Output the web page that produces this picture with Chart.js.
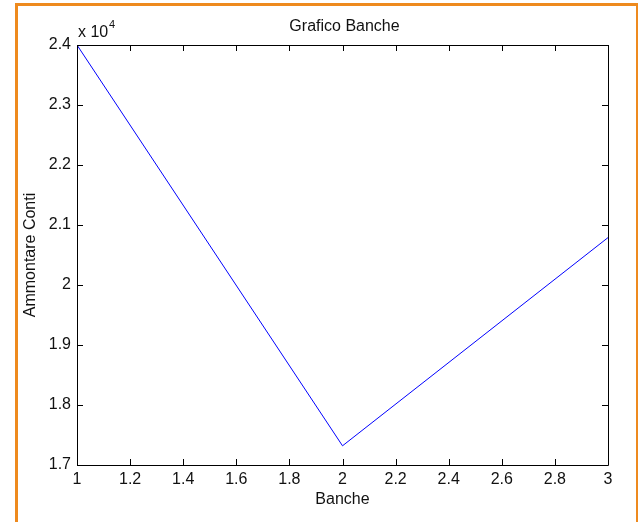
<!DOCTYPE html>
<html lang="it">
<head>
	<meta charset="UTF-8">
	<title>Grafico Banche</title>
	<script src="https://cdn.jsdelivr.net/npm/chart.js@4/dist/chart.umd.min.js"></script>
	<style>
		body{margin:0;background:#fff;}
		#wrap{position:relative;width:638px;height:522px;}
		#frame{position:absolute;left:15px;top:3px;width:618px;height:530px;border:3px solid #ee8a1e;border-bottom:none;pointer-events:none;}
		canvas{position:absolute;left:0;top:0;}
	</style>
</head>
<body>
	<div id="wrap">
		<canvas id="chart" width="638" height="522"></canvas>
		<div id="frame"></div>
	</div>

	<script>
		// banche (x) e ammontare conti (y)
		var banche=[1,2,3];
		var conti=[24000,17320,20790];

		var titolo="Grafico Banche",
			xTitolo="Banche",
			yTitolo="Ammontare Conti";

		var FONT="'Liberation Sans', Arial, sans-serif",
			SIZE=16;

		// box, tacche interne, titolo ed esponente
		var matlabAxes={
			id:"matlabAxes",
			afterDraw:function(chart){
				var ctx=chart.ctx,
					a=chart.chartArea,
					xs=chart.scales.x,
					ys=chart.scales.y,
					tl=6;
				ctx.save();
				ctx.strokeStyle="#000";
				ctx.lineWidth=1;
				ctx.beginPath();
				ctx.rect(Math.round(a.left)+0.5,Math.round(a.top)+0.5,Math.round(a.right-a.left),Math.round(a.bottom-a.top));
				xs.ticks.forEach(function(t){
					var px=Math.round(xs.getPixelForValue(t.value))+0.5;
					ctx.moveTo(px,a.bottom);ctx.lineTo(px,a.bottom-tl);
					ctx.moveTo(px,a.top);ctx.lineTo(px,a.top+tl);
				});
				ys.ticks.forEach(function(t){
					var py=Math.round(ys.getPixelForValue(t.value))+0.5;
					ctx.moveTo(a.left,py);ctx.lineTo(a.left+tl,py);
					ctx.moveTo(a.right,py);ctx.lineTo(a.right-tl,py);
				});
				ctx.stroke();

				ctx.fillStyle="#111";
				ctx.textAlign="center";
				ctx.textBaseline="middle";
				ctx.font=SIZE+"px "+FONT;
				ctx.fillText(titolo,(a.left+a.right)/2+2,a.top-18);

				ctx.textAlign="left";
				ctx.textBaseline="alphabetic";
				ctx.fillText("x 10",a.left+1,a.top-8);
				ctx.font="11px "+FONT;
				ctx.fillText("4",a.left+32,a.top-17);
				ctx.restore();
			}
		};

		var ctx=document.getElementById("chart").getContext("2d");

		new Chart(ctx,{
			type:"line",
			data:{
				datasets:[{
					data:banche.map(function(b,i){ return {x:b,y:conti[i]}; }),
					borderColor:"#0000ff",
					borderWidth:1,
					pointRadius:0,
					tension:0,
					fill:false
				}]
			},
			options:{
				responsive:false,
				animation:false,
				layout:{padding:{top:45,right:30,bottom:0,left:0}},
				plugins:{legend:{display:false},tooltip:{enabled:false},title:{display:false}},
				scales:{
					x:{
						type:"linear",
						min:1,max:3,
						grid:{display:false,drawTicks:false},
						border:{display:false},
						ticks:{
							stepSize:0.2,
							padding:5,
							color:"#111",
							font:{family:FONT,size:SIZE},
							maxRotation:0,
							autoSkip:false,
							callback:function(v){ return String(Math.round(v*10)/10); }
						},
						title:{display:true,text:xTitolo,color:"#111",font:{family:FONT,size:SIZE},padding:{top:0,bottom:13}},
						afterFit:function(s){ s.height=57; }
					},
					y:{
						type:"linear",
						min:17000,max:24000,
						grid:{display:false,drawTicks:false},
						border:{display:false},
						ticks:{
							stepSize:1000,
							padding:6,
							color:"#111",
							font:{family:FONT,size:SIZE},
							autoSkip:false,
							callback:function(v){ return String(Math.round(v/1000)/10); }
						},
						title:{display:true,text:yTitolo,color:"#111",font:{family:FONT,size:SIZE},padding:{top:21,bottom:0}},
						afterFit:function(s){ s.width=77; }
					}
				}
			},
			plugins:[matlabAxes]
		});
	</script>
</body>
</html>
